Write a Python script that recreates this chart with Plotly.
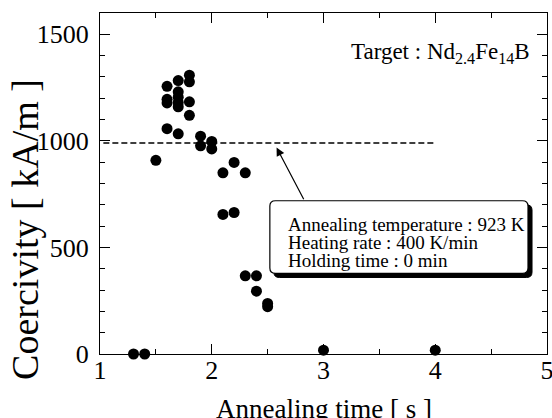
import plotly.graph_objects as go

# ---- data ----
annealing_time = [1.3, 1.4, 1.5,
                  1.6, 1.6, 1.6, 1.6,
                  1.7, 1.7, 1.7, 1.7, 1.7, 1.7,
                  1.8, 1.8, 1.8, 1.8,
                  1.9, 1.9, 2.0, 2.0, 2.1, 2.1, 2.2, 2.2,
                  2.3, 2.3, 2.4, 2.4, 2.5, 2.5, 3.0, 4.0]
coercivity = [0, 0, 909,
              1256, 1195, 1178, 1057,
              1283, 1230, 1205, 1180, 1160, 1033,
              1308, 1277, 1183, 1120,
              1022, 977, 997, 962, 850, 655, 899, 664,
              850, 367, 367, 295, 237, 222, 18, 18]

ref_line_x = [1.03, 4.0]
ref_line_y = [990, 990]

x_ticks = [1, 2, 3, 4, 5]
y_ticks = [0, 500, 1000, 1500]

target_text = "Target : Nd<sub>2.4</sub>Fe<sub>14</sub>B"
condition_lines = ["Annealing temperature : 923 K",
                   "Heating rate : 400 K/min",
                   "Holding time : 0 min"]

FONT = "Liberation Serif, Times New Roman, serif"

fig = go.Figure()
fig.add_trace(go.Scatter(x=ref_line_x, y=ref_line_y, mode="lines",
                         line=dict(color="black", width=1.4, dash="6px,3px"),
                         hoverinfo="skip", showlegend=False))
fig.add_trace(go.Scatter(x=annealing_time, y=coercivity, mode="markers",
                         marker=dict(color="black", size=11),
                         cliponaxis=False, showlegend=False))

# ---- rounded callout box with shadow (data coordinates) ----
def rounded(x0, x1, y0, y1, rx, ry):
    return (f"M {x0+rx},{y1} L {x1-rx},{y1} Q {x1},{y1} {x1},{y1-ry} "
            f"L {x1},{y0+ry} Q {x1},{y0} {x1-rx},{y0} L {x0+rx},{y0} "
            f"Q {x0},{y0} {x0},{y0+ry} L {x0},{y1-ry} Q {x0},{y1} {x0+rx},{y1} Z")

bx0, bx1, by0, by1 = 2.52, 4.83, 378, 719
sdx, sdy = 0.036, 19
rx, ry = 0.05, 25
fig.add_shape(type="path", xref="x", yref="y",
              path=rounded(bx0 + sdx, bx1 + sdx, by0 - sdy, by1 - sdy, rx, ry),
              fillcolor="black", line=dict(color="black", width=1))
fig.add_shape(type="path", xref="x", yref="y",
              path=rounded(bx0, bx1, by0, by1, rx, ry),
              fillcolor="white", line=dict(color="black", width=1.2))

# arrow from box to dashed line
fig.add_annotation(x=2.58, y=969, ax=2.83, ay=719, xref="x", yref="y",
                   axref="x", ayref="y", text="", showarrow=True,
                   arrowhead=2, arrowsize=1.4, arrowwidth=1.2, arrowcolor="black")

for line_text, yv in zip(condition_lines, [609, 525, 441]):
    fig.add_annotation(x=2.66, y=yv, xref="x", yref="y", text=line_text,
                       showarrow=False, xanchor="left", yanchor="middle",
                       font=dict(family=FONT, size=19, color="black"))

fig.add_annotation(x=4.87, y=1411, xref="x", yref="y", text=target_text,
                   showarrow=False, xanchor="right", yanchor="middle",
                   font=dict(family=FONT, size=23, color="black"))

# axis titles
fig.add_annotation(x=0.5, y=0, xref="paper", yref="paper", yshift=-55,
                   text="Annealing time [ s ]", showarrow=False,
                   xanchor="center", yanchor="middle",
                   font=dict(family=FONT, size=27, color="black"))
fig.add_annotation(x=0, y=0.364, xref="paper", yref="paper", xshift=-75,
                   text="Coercivity [ kA/m ]", showarrow=False, textangle=-90,
                   xanchor="center", yanchor="middle",
                   font=dict(family=FONT, size=38, color="black"))

axis_common = dict(showline=True, linecolor="black", linewidth=1.2,
                   mirror="ticks", ticks="inside", ticklen=10, tickwidth=1.2,
                   tickcolor="black", showgrid=False, zeroline=False,
                   ticklabeloverflow="allow", automargin=False,
                   tickfont=dict(family=FONT, size=26, color="black"))

fig.update_xaxes(range=[1, 5], tickvals=x_ticks, ticktext=[str(v) for v in x_ticks],
                 ticklabelstandoff=-7,
                 minor=dict(dtick=0.5, tick0=1, ticks="inside", ticklen=5,
                            tickcolor="black", showgrid=False),
                 **axis_common)
fig.update_yaxes(range=[0, 1600], tickvals=y_ticks, ticktext=[str(v) for v in y_ticks],
                 ticklabelstandoff=5,
                 minor=dict(dtick=100, tick0=0, ticks="inside", ticklen=5,
                            tickcolor="black", showgrid=False),
                 **axis_common)

fig.update_layout(width=552, height=418,
                  margin=dict(l=100, r=5, t=13, b=64, autoexpand=False),
                  paper_bgcolor="white", plot_bgcolor="white",
                  font=dict(family=FONT, color="black"),
                  showlegend=False)

fig.write_html("out.html", config={"displayModeBar": False},
               post_script="document.body.style.margin='0';document.body.style.padding='0';")
